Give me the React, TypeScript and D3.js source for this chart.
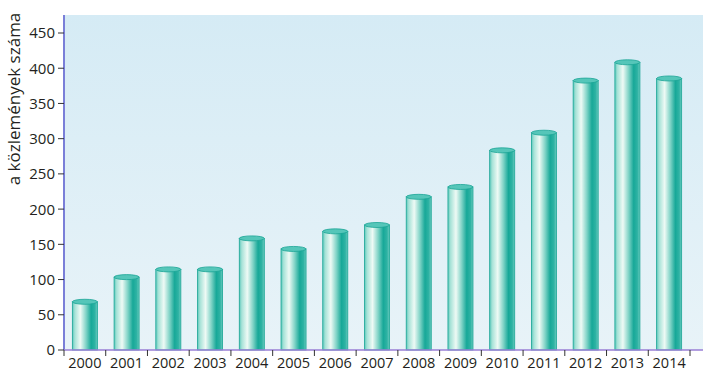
import React from "react";
import * as d3 from "d3";

const years = ["2000","2001","2002","2003","2004","2005","2006","2007","2008","2009","2010","2011","2012","2013","2014"];
const counts = [72,107,118,118,162,147,172,181,221,235,287,312,386,412,389];
const yTicks = [0,50,100,150,200,250,300,350,400,450];
const yLabel = "a közlemények száma";

export default function App() {
  const W = 708, H = 378;
  const left = 64, right = 690, bgRight = 703, top = 15, bottom = 350;
  const x = d3.scaleBand<string>().domain(years).range([left, right]).paddingInner(0.4).paddingOuter(0.2);
  const y = d3.scaleLinear().domain([0, 450]).range([bottom, 33]);
  const bw = x.bandwidth();
  const ry = 2.5;
  const font = "'Open Sans', 'Noto Sans', sans-serif";
  const step = x.step();
  return (
    <svg width={W} height={H} style={{ position: "absolute", left: 0, top: 0 }} fontFamily={font}>
      <defs>
        <linearGradient id="bg" x1="0" y1="0" x2="0" y2="1">
          <stop offset="0" stopColor="#d5ebf5" />
          <stop offset="1" stopColor="#e8f3f8" />
        </linearGradient>
        <linearGradient id="cyl" x1="0" y1="0" x2="1" y2="0">
          <stop offset="0" stopColor="#5cc8bb" />
          <stop offset="0.1" stopColor="#a6e2d7" />
          <stop offset="0.32" stopColor="#eefaf5" />
          <stop offset="0.55" stopColor="#7fd3c6" />
          <stop offset="0.75" stopColor="#17a898" />
          <stop offset="0.9" stopColor="#2fb3a4" />
          <stop offset="1" stopColor="#6ccbbf" />
        </linearGradient>
      </defs>
      <rect x={0} y={0} width={W} height={H} fill="#ffffff" />
      <rect x={left} y={top} width={bgRight - left} height={bottom - top} fill="url(#bg)" />
      {years.map((yr, i) => {
        const bx = x(yr)!;
        const by = y(counts[i]);
        return (
          <g key={yr}>
            <rect x={bx} y={by + ry} width={bw} height={bottom - by - ry} fill="url(#cyl)" stroke="#1aa595" strokeWidth={0.8} />
            <ellipse cx={bx + bw / 2} cy={by + ry} rx={bw / 2} ry={ry} fill="#55c6b9" stroke="#1aa595" strokeWidth={0.8} />
          </g>
        );
      })}
      <line x1={left} y1={top} x2={left} y2={bottom} stroke="#7a7fd8" strokeWidth={2} />
      <line x1={left} y1={bottom} x2={bgRight} y2={bottom} stroke="#9a7fd6" strokeWidth={1.5} />
      {yTicks.map((t) => (
        <g key={t}>
          <line x1={left - 6} x2={left} y1={y(t)} y2={y(t)} stroke="#333" strokeWidth={1} />
          <text x={left - 9} y={y(t)} dy="0.36em" textAnchor="end" fontSize={15} fill="#231f20">{t}</text>
        </g>
      ))}
      {d3.range(years.length + 1).map((i) => (
        <line key={i} x1={left + i * step} x2={left + i * step} y1={bottom} y2={bottom + 6} stroke="#333" strokeWidth={1} />
      ))}
      {years.map((yr) => (
        <text key={yr} x={x(yr)! + bw / 2} y={bottom + 18} textAnchor="middle" fontSize={14.5} fill="#231f20">{yr}</text>
      ))}
      <text transform={`translate(20,${99}) rotate(-90)`} textAnchor="middle" fontSize={17} fill="#231f20">{yLabel}</text>
    </svg>
  );
}
